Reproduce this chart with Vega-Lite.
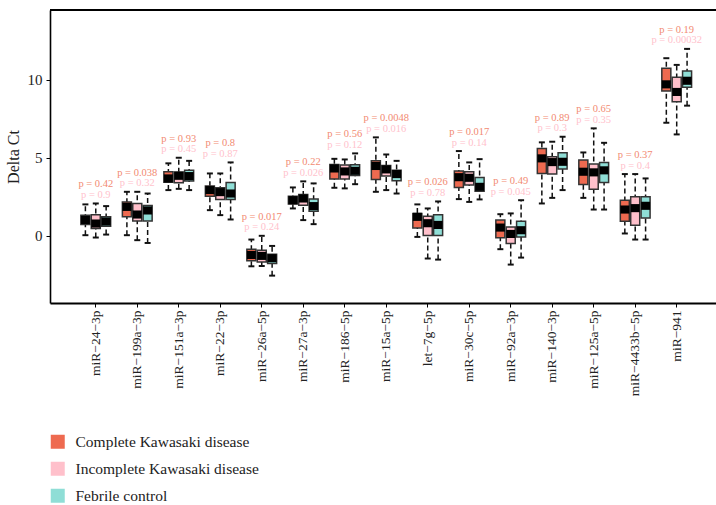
{
  "$schema": "https://vega.github.io/schema/vega-lite/v6.json",
  "autosize": "none",
  "padding": {"left": 50, "top": 10, "right": 0, "bottom": 202},
  "width": 666,
  "height": 293,
  "background": "white",
  "config": {"font": "Liberation Serif", "view": {"stroke": null}},
  "datasets": {
    "boxes": [
      {"mirna": "miR−24−3p", "group": "Complete Kawasaki disease", "lo": 0.02, "q1": 0.71, "med": 1.0, "q3": 1.31, "hi": 2.0},
      {"mirna": "miR−24−3p", "group": "Incomplete Kawasaki disease", "lo": -0.13, "q1": 0.45, "med": 0.77, "q3": 1.33, "hi": 2.06},
      {"mirna": "miR−24−3p", "group": "Febrile control", "lo": 0.06, "q1": 0.6, "med": 0.9, "q3": 1.2, "hi": 1.89},
      {"mirna": "miR−199a−3p", "group": "Complete Kawasaki disease", "lo": 0.02, "q1": 1.2, "med": 1.84, "q3": 2.16, "hi": 2.81},
      {"mirna": "miR−199a−3p", "group": "Incomplete Kawasaki disease", "lo": -0.3, "q1": 0.94, "med": 1.35, "q3": 2.06, "hi": 2.81},
      {"mirna": "miR−199a−3p", "group": "Febrile control", "lo": -0.48, "q1": 0.94, "med": 1.61, "q3": 1.93, "hi": 2.7},
      {"mirna": "miR−151a−3p", "group": "Complete Kawasaki disease", "lo": 2.92, "q1": 3.43, "med": 3.67, "q3": 4.1, "hi": 4.64},
      {"mirna": "miR−151a−3p", "group": "Incomplete Kawasaki disease", "lo": 3.0, "q1": 3.39, "med": 3.84, "q3": 4.08, "hi": 5.0},
      {"mirna": "miR−151a−3p", "group": "Febrile control", "lo": 2.92, "q1": 3.5, "med": 3.82, "q3": 4.2, "hi": 4.8},
      {"mirna": "miR−22−3p", "group": "Complete Kawasaki disease", "lo": 1.63, "q1": 2.53, "med": 2.92, "q3": 3.19, "hi": 3.99},
      {"mirna": "miR−22−3p", "group": "Incomplete Kawasaki disease", "lo": 1.31, "q1": 2.32, "med": 2.79, "q3": 3.07, "hi": 3.99},
      {"mirna": "miR−22−3p", "group": "Febrile control", "lo": 1.03, "q1": 2.32, "med": 2.7, "q3": 3.41, "hi": 4.7},
      {"mirna": "miR−26a−5p", "group": "Complete Kawasaki disease", "lo": -1.98, "q1": -1.62, "med": -1.25, "q3": -0.88, "hi": -0.26},
      {"mirna": "miR−26a−5p", "group": "Incomplete Kawasaki disease", "lo": -1.96, "q1": -1.7, "med": -1.31, "q3": -0.95, "hi": -0.02},
      {"mirna": "miR−26a−5p", "group": "Febrile control", "lo": -2.58, "q1": -1.8, "med": -1.46, "q3": -1.2, "hi": -0.67},
      {"mirna": "miR−27a−3p", "group": "Complete Kawasaki disease", "lo": 1.74, "q1": 2.02, "med": 2.27, "q3": 2.53, "hi": 3.09},
      {"mirna": "miR−27a−3p", "group": "Incomplete Kawasaki disease", "lo": 0.99, "q1": 1.95, "med": 2.38, "q3": 2.64, "hi": 3.48},
      {"mirna": "miR−27a−3p", "group": "Febrile control", "lo": 0.73, "q1": 1.56, "med": 1.89, "q3": 2.34, "hi": 3.35},
      {"mirna": "miR−186−5p", "group": "Complete Kawasaki disease", "lo": 3.07, "q1": 3.63, "med": 4.31, "q3": 4.57, "hi": 4.93},
      {"mirna": "miR−186−5p", "group": "Incomplete Kawasaki disease", "lo": 3.03, "q1": 3.63, "med": 4.12, "q3": 4.53, "hi": 4.89},
      {"mirna": "miR−186−5p", "group": "Febrile control", "lo": 3.3, "q1": 3.86, "med": 4.16, "q3": 4.55, "hi": 5.28},
      {"mirna": "miR−15a−5p", "group": "Complete Kawasaki disease", "lo": 2.81, "q1": 3.6, "med": 4.47, "q3": 4.8, "hi": 6.31},
      {"mirna": "miR−15a−5p", "group": "Incomplete Kawasaki disease", "lo": 2.92, "q1": 3.82, "med": 4.25, "q3": 4.5, "hi": 5.21},
      {"mirna": "miR−15a−5p", "group": "Febrile control", "lo": 2.7, "q1": 3.52, "med": 3.95, "q3": 4.2, "hi": 4.8},
      {"mirna": "let−7g−5p", "group": "Complete Kawasaki disease", "lo": -0.09, "q1": 0.49, "med": 1.2, "q3": 1.42, "hi": 2.0},
      {"mirna": "let−7g−5p", "group": "Incomplete Kawasaki disease", "lo": -1.48, "q1": 0.0, "med": 0.79, "q3": 1.24, "hi": 1.74},
      {"mirna": "let−7g−5p", "group": "Febrile control", "lo": -1.55, "q1": 0.0, "med": 0.68, "q3": 1.33, "hi": 2.19},
      {"mirna": "miR−30c−5p", "group": "Complete Kawasaki disease", "lo": 2.34, "q1": 3.09, "med": 3.75, "q3": 4.14, "hi": 5.43},
      {"mirna": "miR−30c−5p", "group": "Incomplete Kawasaki disease", "lo": 2.16, "q1": 3.24, "med": 3.71, "q3": 4.1, "hi": 4.7},
      {"mirna": "miR−30c−5p", "group": "Febrile control", "lo": 2.32, "q1": 2.85, "med": 3.13, "q3": 3.73, "hi": 4.91},
      {"mirna": "miR−92a−3p", "group": "Complete Kawasaki disease", "lo": -0.88, "q1": -0.15, "med": 0.51, "q3": 0.99, "hi": 1.37},
      {"mirna": "miR−92a−3p", "group": "Incomplete Kawasaki disease", "lo": -1.87, "q1": -0.52, "med": 0.1, "q3": 0.55, "hi": 1.42},
      {"mirna": "miR−92a−3p", "group": "Febrile control", "lo": -1.42, "q1": -0.09, "med": 0.34, "q3": 0.92, "hi": 2.27},
      {"mirna": "miR−140−3p", "group": "Complete Kawasaki disease", "lo": 2.06, "q1": 3.99, "med": 4.96, "q3": 5.6, "hi": 5.99},
      {"mirna": "miR−140−3p", "group": "Incomplete Kawasaki disease", "lo": 2.42, "q1": 3.95, "med": 4.72, "q3": 5.06, "hi": 6.03},
      {"mirna": "miR−140−3p", "group": "Febrile control", "lo": 2.92, "q1": 4.27, "med": 4.74, "q3": 5.32, "hi": 6.35},
      {"mirna": "miR−125a−5p", "group": "Complete Kawasaki disease", "lo": 2.42, "q1": 3.28, "med": 4.1, "q3": 4.85, "hi": 5.34},
      {"mirna": "miR−125a−5p", "group": "Incomplete Kawasaki disease", "lo": 1.67, "q1": 2.98, "med": 4.06, "q3": 4.59, "hi": 6.89},
      {"mirna": "miR−125a−5p", "group": "Febrile control", "lo": 1.67, "q1": 3.41, "med": 4.19, "q3": 4.7, "hi": 5.96},
      {"mirna": "miR−4433b−5p", "group": "Complete Kawasaki disease", "lo": 0.13, "q1": 0.92, "med": 1.67, "q3": 2.27, "hi": 3.95},
      {"mirna": "miR−4433b−5p", "group": "Incomplete Kawasaki disease", "lo": -0.26, "q1": 0.66, "med": 1.76, "q3": 2.49, "hi": 3.95},
      {"mirna": "miR−4433b−5p", "group": "Febrile control", "lo": -0.26, "q1": 1.13, "med": 1.91, "q3": 2.49, "hi": 3.67},
      {"mirna": "miR−941", "group": "Complete Kawasaki disease", "lo": 7.25, "q1": 9.29, "med": 9.72, "q3": 10.75, "hi": 11.4},
      {"mirna": "miR−941", "group": "Incomplete Kawasaki disease", "lo": 6.5, "q1": 8.6, "med": 9.23, "q3": 10.17, "hi": 10.97},
      {"mirna": "miR−941", "group": "Febrile control", "lo": 8.35, "q1": 9.53, "med": 9.95, "q3": 10.58, "hi": 12.0}
    ],
    "pvals": [
      {"mirna": "miR−24−3p", "pc": "p = 0.42", "pi": "p = 0.9"},
      {"mirna": "miR−199a−3p", "pc": "p = 0.038", "pi": "p = 0.32"},
      {"mirna": "miR−151a−3p", "pc": "p = 0.93", "pi": "p = 0.45"},
      {"mirna": "miR−22−3p", "pc": "p = 0.8", "pi": "p = 0.87"},
      {"mirna": "miR−26a−5p", "pc": "p = 0.017", "pi": "p = 0.24"},
      {"mirna": "miR−27a−3p", "pc": "p = 0.22", "pi": "p = 0.026"},
      {"mirna": "miR−186−5p", "pc": "p = 0.56", "pi": "p = 0.12"},
      {"mirna": "miR−15a−5p", "pc": "p = 0.0048", "pi": "p = 0.016"},
      {"mirna": "let−7g−5p", "pc": "p = 0.026", "pi": "p = 0.78"},
      {"mirna": "miR−30c−5p", "pc": "p = 0.017", "pi": "p = 0.14"},
      {"mirna": "miR−92a−3p", "pc": "p = 0.49", "pi": "p = 0.045"},
      {"mirna": "miR−140−3p", "pc": "p = 0.89", "pi": "p = 0.3"},
      {"mirna": "miR−125a−5p", "pc": "p = 0.65", "pi": "p = 0.35"},
      {"mirna": "miR−4433b−5p", "pc": "p = 0.37", "pi": "p = 0.4"},
      {"mirna": "miR−941", "pc": "p = 0.19", "pi": "p = 0.00032"}
    ]
  },
  "data": {"name": "boxes"},
  "encoding": {
    "x": {
      "field": "mirna", "type": "nominal",
      "sort": ["miR−24−3p", "miR−199a−3p", "miR−151a−3p", "miR−22−3p", "miR−26a−5p", "miR−27a−3p", "miR−186−5p", "miR−15a−5p", "let−7g−5p", "miR−30c−5p", "miR−92a−3p", "miR−140−3p", "miR−125a−5p", "miR−4433b−5p", "miR−941"],
      "scale": {"paddingInner": 0.25, "paddingOuter": 0.65, "align": 0.56},
      "axis": {"title": null, "labelAngle": -90, "labelFontSize": 13.5, "labelColor": "#222", "tickSize": 4, "tickColor": "#000", "tickWidth": 1, "domainColor": "#000", "domainWidth": 1.8, "labelPadding": 3}
    }
  },
  "layer": [
    {
      "mark": {"type": "rule", "strokeDash": [5, 3], "strokeWidth": 1.5, "color": "#111"},
      "encoding": {
        "xOffset": {"field": "group", "type": "nominal", "scale": {"domain": ["Complete Kawasaki disease", "Incomplete Kawasaki disease", "Febrile control"], "paddingInner": 0.13, "paddingOuter": 0.065}},
        "y": {"field": "lo", "type": "quantitative", "scale": {"domain": [-4.34, 14.5], "nice": false, "zero": false},
              "axis": {"title": "Delta Ct", "values": [0, 5, 10], "grid": false, "domainColor": "#000", "domainWidth": 1.6, "tickColor": "#000", "tickSize": 4, "tickWidth": 1, "labelFontSize": 15, "labelColor": "#222", "labelPadding": 4, "titleFontSize": 16, "titleFontWeight": "normal", "titleColor": "#222", "titlePadding": 6}},
        "y2": {"field": "hi"}
      }
    },
    {
      "mark": {"type": "bar", "stroke": "#333", "strokeWidth": 1.5},
      "encoding": {
        "xOffset": {"field": "group", "type": "nominal"},
        "y": {"field": "q1", "type": "quantitative"},
        "y2": {"field": "q3"},
        "color": {
          "field": "group", "type": "nominal",
          "scale": {"domain": ["Complete Kawasaki disease", "Incomplete Kawasaki disease", "Febrile control"], "range": ["#EE6A50", "#FFC0CB", "#8FDED6"]},
          "legend": {"title": null, "orient": "none", "legendX": 0, "legendY": 424, "symbolType": "square", "symbolSize": 196, "symbolStrokeWidth": 0, "labelFontSize": 15.5, "labelLimit": 0, "labelColor": "#222", "labelOffset": 10, "rowPadding": 10, "padding": 0}
        }
      }
    },
    {
      "mark": {"type": "point", "shape": "M-1,-0.9H1V0.9H-1Z", "filled": true, "color": "#000", "size": 81, "opacity": 1, "strokeWidth": 0},
      "encoding": {
        "xOffset": {"field": "group", "type": "nominal"},
        "y": {"field": "med", "type": "quantitative"}
      }
    },
    {
      "mark": {"type": "point", "shape": "M-1,-0.33H1V0.33H-1Z", "filled": true, "color": "#111", "size": 36, "opacity": 1, "strokeWidth": 0},
      "encoding": {
        "xOffset": {"field": "group", "type": "nominal"},
        "y": {"field": "lo", "type": "quantitative"}
      }
    },
    {
      "mark": {"type": "point", "shape": "M-1,-0.33H1V0.33H-1Z", "filled": true, "color": "#111", "size": 36, "opacity": 1, "strokeWidth": 0},
      "encoding": {
        "xOffset": {"field": "group", "type": "nominal"},
        "y": {"field": "hi", "type": "quantitative"}
      }
    },
    {
      "data": {"values": [{}]},
      "mark": {"type": "rule", "strokeWidth": 1.8, "color": "#000"},
      "encoding": {
        "x": {"value": 0},
        "x2": {"value": "width"},
        "y": {"datum": 14.5}
      }
    },
    {
      "transform": [
        {"aggregate": [{"op": "max", "field": "hi", "as": "top"}], "groupby": ["mirna"]},
        {"lookup": "mirna", "from": {"data": {"name": "pvals"}, "key": "mirna", "fields": ["pc", "pi"]}}
      ],
      "mark": {"type": "text", "fontSize": 10.5, "color": "#F28A72", "dy": -19, "baseline": "middle"},
      "encoding": {
        "y": {"field": "top", "type": "quantitative"},
        "text": {"field": "pc"}
      }
    },
    {
      "transform": [
        {"aggregate": [{"op": "max", "field": "hi", "as": "top"}], "groupby": ["mirna"]},
        {"lookup": "mirna", "from": {"data": {"name": "pvals"}, "key": "mirna", "fields": ["pc", "pi"]}}
      ],
      "mark": {"type": "text", "fontSize": 10.5, "color": "#FFC2CC", "dy": -8.5, "baseline": "middle"},
      "encoding": {
        "y": {"field": "top", "type": "quantitative"},
        "text": {"field": "pi"}
      }
    }
  ]
}
